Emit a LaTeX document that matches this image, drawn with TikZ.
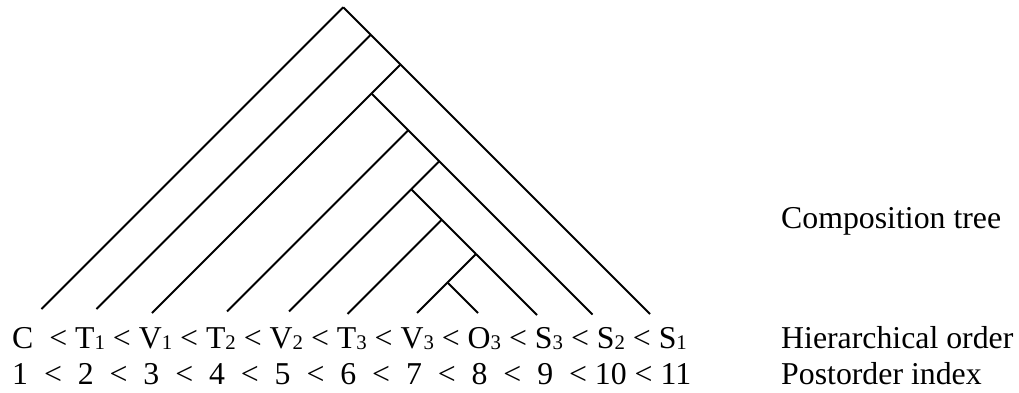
\documentclass[tikz,border=0pt]{standalone}
\usepackage{fontspec}
\setmainfont{Liberation Serif}
\newcommand{\lowidx}[1]{\raisebox{-1pt}{\fontsize{20.8}{20}\selectfont #1}}
\begin{document}
\begin{tikzpicture}[x=1pt,y=-1pt,
  edge/.style={line width=2pt},
  lbl/.style={inner sep=0pt, anchor=base west, font=\fontsize{31.8}{36}\selectfont}]
\useasboundingbox (0,0) rectangle (1019,393);
% leaf ends
\foreach \n/\x/\y in {C/41.5/309, T1/96.5/309, V1/152/313, T2/227/311.5, V2/289/311.5,
  T3/347.5/314, V3/417/313, O3/478/313, S3/537/315, S2/592.5/314.5, S1/650/314} {
  \coordinate (\n) at (\x,\y);
  \coordinate (\n-r) at (\x+100,\y-100);
  \coordinate (\n-l) at (\x-100,\y-100);
}
% internal nodes
\coordinate (root) at (intersection of C--C-r and S1--S1-l);
\coordinate (N1) at (intersection of T1--T1-r and S1--S1-l);
\coordinate (N2) at (intersection of V1--V1-r and S1--S1-l);
\coordinate (N3) at (intersection of V1--V1-r and S2--S2-l);
\coordinate (N4) at (intersection of T2--T2-r and S2--S2-l);
\coordinate (N5) at (intersection of V2--V2-r and S2--S2-l);
\coordinate (N6) at (intersection of V2--V2-r and S3--S3-l);
\coordinate (N7) at (intersection of T3--T3-r and S3--S3-l);
\coordinate (N8) at (intersection of V3--V3-r and S3--S3-l);
\coordinate (N9) at (intersection of V3--V3-r and O3--O3-l);
% edges
\draw[edge] (root) -- (C);
\draw[edge] (root) -- (N1);
\draw[edge] (N1) -- (T1);
\draw[edge] (N1) -- (N2);
\draw[edge] (N2) -- (S1);
\draw[edge] (N2) -- (N3);
\draw[edge] (N3) -- (V1);
\draw[edge] (N3) -- (N4);
\draw[edge] (N4) -- (T2);
\draw[edge] (N4) -- (N5);
\draw[edge] (N5) -- (S2);
\draw[edge] (N5) -- (N6);
\draw[edge] (N6) -- (V2);
\draw[edge] (N6) -- (N7);
\draw[edge] (N7) -- (T3);
\draw[edge] (N7) -- (N8);
\draw[edge] (N8) -- (S3);
\draw[edge] (N8) -- (N9);
\draw[edge] (N9) -- (V3);
\draw[edge] (N9) -- (O3);
% texts
\node[lbl] (hier) at (12,348) {C~~<~T\lowidx{1}~<~V\lowidx{1}~<~T\lowidx{2}~<~V\lowidx{2}~<~T\lowidx{3}~<~V\lowidx{3}~<~O\lowidx{3}~<~S\lowidx{3}~<~S\lowidx{2}~<~S\lowidx{1}};
\node[lbl] (post) at (12,384) {1~~<~~2~~<~~3~~<~~4~~<~~5~~<~~6~~<~~7~~<~~8~~<~~9~~<~10~<~11};
\node[lbl] (comp) at (781,228) {Composition tree};
\node[lbl] (hlab) at (781,348) {Hierarchical order};
\node[lbl] (plab) at (781,384) {Postorder index};
\end{tikzpicture}
\end{document}
